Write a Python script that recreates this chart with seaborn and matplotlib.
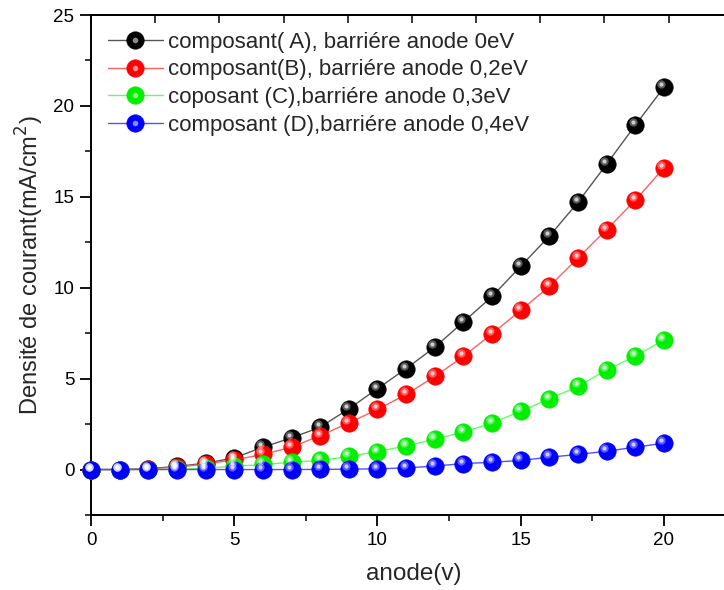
import numpy as np
import pandas as pd
import matplotlib
matplotlib.use("Agg")
import matplotlib.pyplot as plt
import matplotlib.transforms as mtransforms
from matplotlib.ticker import MultipleLocator, NullFormatter
from matplotlib.legend_handler import HandlerTuple
import seaborn as sns

# ---- data ----
anode = list(range(0, 21))
courant_A = [0, 0, 0.05, 0.17, 0.35, 0.64, 1.23, 1.74, 2.33, 3.34, 4.45,
             5.55, 6.73, 8.12, 9.52, 11.18, 12.84, 14.70, 16.80, 18.94, 21.03]
courant_B = [0, 0, 0.03, 0.12, 0.31, 0.53, 0.83, 1.23, 1.87, 2.56, 3.31,
             4.13, 5.12, 6.22, 7.47, 8.76, 10.07, 11.64, 13.20, 14.81, 16.60]
courant_C = [0, 0, 0, 0.02, 0.08, 0.17, 0.28, 0.40, 0.50, 0.72, 0.99,
             1.30, 1.67, 2.06, 2.55, 3.21, 3.89, 4.57, 5.49, 6.22, 7.14]
courant_D = [0, 0, 0, 0, 0, 0, 0, 0, 0.01, 0.02, 0.04,
             0.09, 0.19, 0.33, 0.40, 0.50, 0.68, 0.83, 1.01, 1.23, 1.45]
labels = ["composant( A), barriére anode 0eV",
          "composant(B), barriére anode 0,2eV",
          "coposant (C),barriére anode 0,3eV",
          "composant (D),barriére anode 0,4eV"]
marker_colors = ["#000000", "#ff0000", "#00ee00", "#0000ff"]
line_colors = ["#555555", "#ff6060", "#60ff60", "#5050ff"]

series = [courant_A, courant_B, courant_C, courant_D]

sns.set_style("ticks")
plt.rcParams["font.family"] = ["Liberation Sans", "DejaVu Sans"]

fig = plt.figure(figsize=(7.24, 5.90), dpi=100)
ax = fig.add_axes([91 / 724, 75 / 590, 644.6 / 724, 500 / 590])

hl_trans = mtransforms.offset_copy(ax.transData, fig=fig, x=-2.5, y=3, units="dots")

handles = []
for vals, lab, mc, lc in zip(series, labels, marker_colors, line_colors):
    df = pd.DataFrame({"anode": anode, "J": vals})
    n_before = len(ax.lines)
    sns.lineplot(data=df, x="anode", y="J", ax=ax, color=lc, linewidth=1.0,
                 marker="o", markersize=12.5, markerfacecolor=mc,
                 markeredgecolor=mc, markeredgewidth=0.5, label=lab,
                 legend=False, zorder=3, clip_on=False)
    main_line = ax.lines[n_before]
    ax.plot(df["anode"], df["J"], linestyle="none", marker="o",
            markersize=6, markerfacecolor="white", markeredgecolor="none",
            alpha=0.35, transform=hl_trans, zorder=4, clip_on=False)
    ax.plot(df["anode"], df["J"], linestyle="none", marker="o",
            markersize=3, markerfacecolor="white", markeredgecolor="none",
            alpha=0.7, transform=hl_trans, zorder=5, clip_on=False)
    hl_leg, = ax.plot([], [], linestyle="none", marker="o", markersize=4,
                      markerfacecolor="white", markeredgecolor="none", alpha=0.55)
    handles.append((main_line, hl_leg))

ax.set_xlim(0, 22.5)
ax.set_ylim(-2.5, 25)
ax.xaxis.set_major_locator(MultipleLocator(5))
ax.xaxis.set_minor_locator(MultipleLocator(2.5))
ax.yaxis.set_major_locator(MultipleLocator(5))
ax.yaxis.set_minor_locator(MultipleLocator(2.5))
ax.tick_params(axis="both", which="major", direction="out", length=8, width=1.3,
               labelsize=13.5, colors="black", pad=4)
ax.tick_params(axis="both", which="minor", direction="out", length=4.5, width=1.3)
for s in ["left", "bottom", "top"]:
    ax.spines[s].set_linewidth(1.4)
    ax.spines[s].set_color("black")
ax.spines["right"].set_visible(False)

secx = ax.secondary_xaxis("top", functions=(lambda x: x / 2.24, lambda x: x * 2.24))
secx.xaxis.set_major_locator(MultipleLocator(1))
secx.xaxis.set_major_formatter(NullFormatter())
secx.tick_params(direction="in", length=6, width=1.3)
secx.spines["top"].set_linewidth(1.4)

ax.set_xlabel("anode(v)", fontsize=17.5, labelpad=10)
ax.set_ylabel("Densité de courant(mA/cm$^2$)", fontsize=17, labelpad=5)

leg = ax.legend(handles, labels, handler_map={tuple: HandlerTuple(ndivide=1)},
                loc="upper left", bbox_to_anchor=(0.0, 1.0), frameon=False,
                fontsize=16, handlelength=2.5, handletextpad=0.22,
                labelspacing=0.3, borderaxespad=0.35)

fig.savefig("out.png", dpi=100)
